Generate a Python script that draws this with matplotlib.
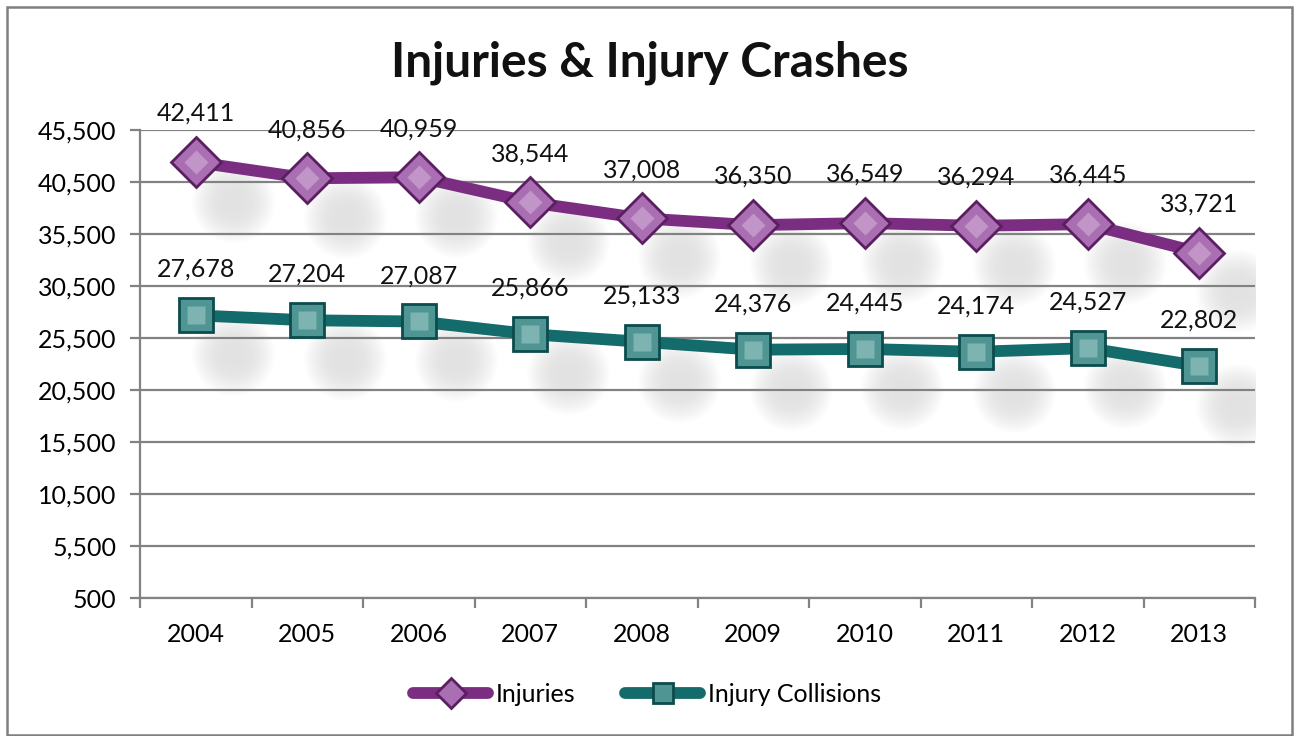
import numpy as np
import matplotlib
matplotlib.use("Agg")
import matplotlib.pyplot as plt
import matplotlib.transforms as mtransforms
from matplotlib.patches import Rectangle
from matplotlib.ticker import FuncFormatter

# data
years = ["2004", "2005", "2006", "2007", "2008", "2009", "2010", "2011", "2012", "2013"]
injuries = [42411, 40856, 40959, 38544, 37008, 36350, 36549, 36294, 36445, 33721]
collisions = [27678, 27204, 27087, 25866, 25133, 24376, 24445, 24174, 24527, 22802]
y_ticks = [500, 5500, 10500, 15500, 20500, 25500, 30500, 35500, 40500, 45500]

plt.rcParams["font.family"] = ["Lato", "DejaVu Sans"]

fig = plt.figure(figsize=(12.94, 7.36), dpi=100)
ax = fig.add_axes([140 / 1294, 1 - 598 / 736, 1115 / 1294, 468 / 736])

# outer frame
fig.patches.append(Rectangle((7 / 1294, 1 / 736), 1285 / 1294, 728 / 736,
                             transform=fig.transFigure, fill=False,
                             edgecolor="#7f7f7f", linewidth=1.8))

x = np.arange(len(years))

# soft drop shadows under the markers
shadow = mtransforms.offset_copy(ax.transData, fig=fig, x=27, y=-28, units="points")
for yy in (injuries, collisions):
    for s in np.linspace(3600, 200, 16):
        ax.scatter(x, yy, s=s, color="#909090", alpha=0.012, lw=0,
                   transform=shadow, zorder=1)

gray = "#828282"
ax.plot(x, injuries, color="#7b2d82", lw=8.5, marker="D", ms=25,
        mfc="#a96fb2", mec="#5b1e60", mew=2, solid_capstyle="round",
        label="Injuries", zorder=3)
ax.plot(x, injuries, ls="none", marker="D", ms=12, mfc="#c295c9", mec="none", zorder=4)
ax.plot(x, collisions, color="#136b6b", lw=8.5, marker="s", ms=24,
        mfc="#4f9593", mec="#0c4c4c", mew=2, solid_capstyle="round",
        label="Injury Collisions", zorder=3)
ax.plot(x, collisions, ls="none", marker="s", ms=13, mfc="#7db3b0", mec="none", zorder=4)

for xi, v in zip(x, injuries):
    ax.annotate(f"{v:,}", (xi, v), xytext=(0, 35), textcoords="offset points",
                ha="center", va="center", fontsize=18, color="#111111", zorder=5)
for xi, v in zip(x, collisions):
    ax.annotate(f"{v:,}", (xi, v), xytext=(0, 33), textcoords="offset points",
                ha="center", va="center", fontsize=18, color="#111111", zorder=5)

ax.set_xlim(-0.5, len(years) - 0.5)
ax.set_ylim(y_ticks[0], y_ticks[-1])
ax.set_yticks(y_ticks)
ax.yaxis.set_major_formatter(FuncFormatter(lambda v, p: f"{int(v):,}"))
ax.set_xticks(x)
ax.set_xticklabels(years)
ax.set_xticks(np.arange(-0.5, len(years)), minor=True)

ax.grid(axis="y", color=gray, lw=1.6, zorder=0)
ax.set_axisbelow(True)
for side in ("top", "right"):
    ax.spines[side].set_visible(False)
for side in ("left", "bottom"):
    ax.spines[side].set_color(gray)
    ax.spines[side].set_linewidth(1.6)

ax.tick_params(axis="y", length=7, width=1.6, color=gray, pad=10, labelsize=18)
ax.tick_params(axis="x", which="major", length=0, pad=18, labelsize=18)
ax.tick_params(axis="x", which="minor", length=7, width=1.6, color=gray)

fig.text(0.502, 1 - 63 / 736, "Injuries & Injury Crashes", ha="center", va="center",
         fontsize=34.5, fontweight="bold", color="#111111")

fig.legend(loc="center", bbox_to_anchor=(0.5, 1 - 694 / 736), ncol=2, frameon=False,
           fontsize=18, handlelength=3.0, handletextpad=0.3, columnspacing=2.0,
           markerscale=0.6)

fig.savefig("out.png", dpi=100)
